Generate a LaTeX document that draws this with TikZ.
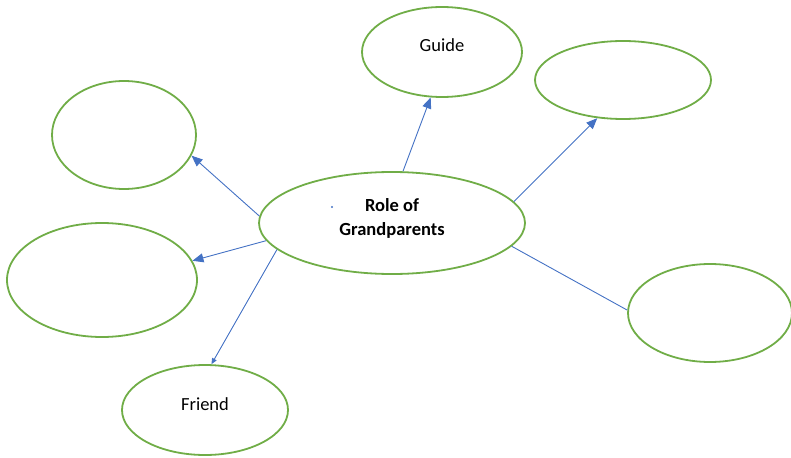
\documentclass[tikz,border=0pt]{standalone}
\usepackage{fontspec}
\setmainfont{Carlito}
\usetikzlibrary{shapes.geometric, arrows.meta}

\definecolor{bubblegreen}{RGB}{112,173,71}
\definecolor{linkblue}{RGB}{68,114,196}

\begin{document}
\begin{tikzpicture}[x=1pt, y=-1pt, line width=1pt]
        % Define block styles
        \tikzstyle{bubble} = [ellipse, draw=bubblegreen, line width=1.8pt, inner sep=0pt, align=center, font=\fontsize{18.5}{24}\selectfont]
        \tikzstyle{link} = [draw=linkblue, line width=0.9pt, -{Triangle[length=11pt, width=9pt]}]

        \useasboundingbox (0,0) rectangle (791,457);

        % Place nodes
        \node [bubble, minimum width=266pt, minimum height=102pt] (role) at (392,223) {\raisebox{0pt}[0pt][0pt]{\parbox{120pt}{\centering\textbf{Role of}\\\textbf{Grandparents}}}};
        \node [bubble, minimum width=160pt, minimum height=90pt] (guide) at (442,52) {\raisebox{14pt}{Guide}};
        \node [bubble, minimum width=176pt, minimum height=78pt] (topright) at (623,80) {};
        \node [bubble, minimum width=144pt, minimum height=108pt] (lefttop) at (124,135) {};
        \node [bubble, minimum width=190pt, minimum height=114pt] (leftmid) at (102,280) {};
        \node [bubble, minimum width=166pt, minimum height=90pt] (friend) at (205,410) {\raisebox{12pt}{Friend}};
        \node [bubble, minimum width=164pt, minimum height=98pt] (right) at (710,313) {};

        % Stray mark next to the title
        \fill [linkblue] (332,207) circle (1.2pt);

        % Draw connections as arrows
        \draw [link] (role.78) -- (guide.-104);
        \draw [link] (role.10) -- (topright.-124);
        \draw [link] (role.177) -- (lefttop.-17);
        \draw [link] (role.-172) -- (leftmid.12);
        \draw [link, -{Triangle[length=6pt, width=5pt]}] (role.-167) -- (friend.82);
        \draw [link, -] (role.-11) -- (right.178);
    \end{tikzpicture}
\end{document}
